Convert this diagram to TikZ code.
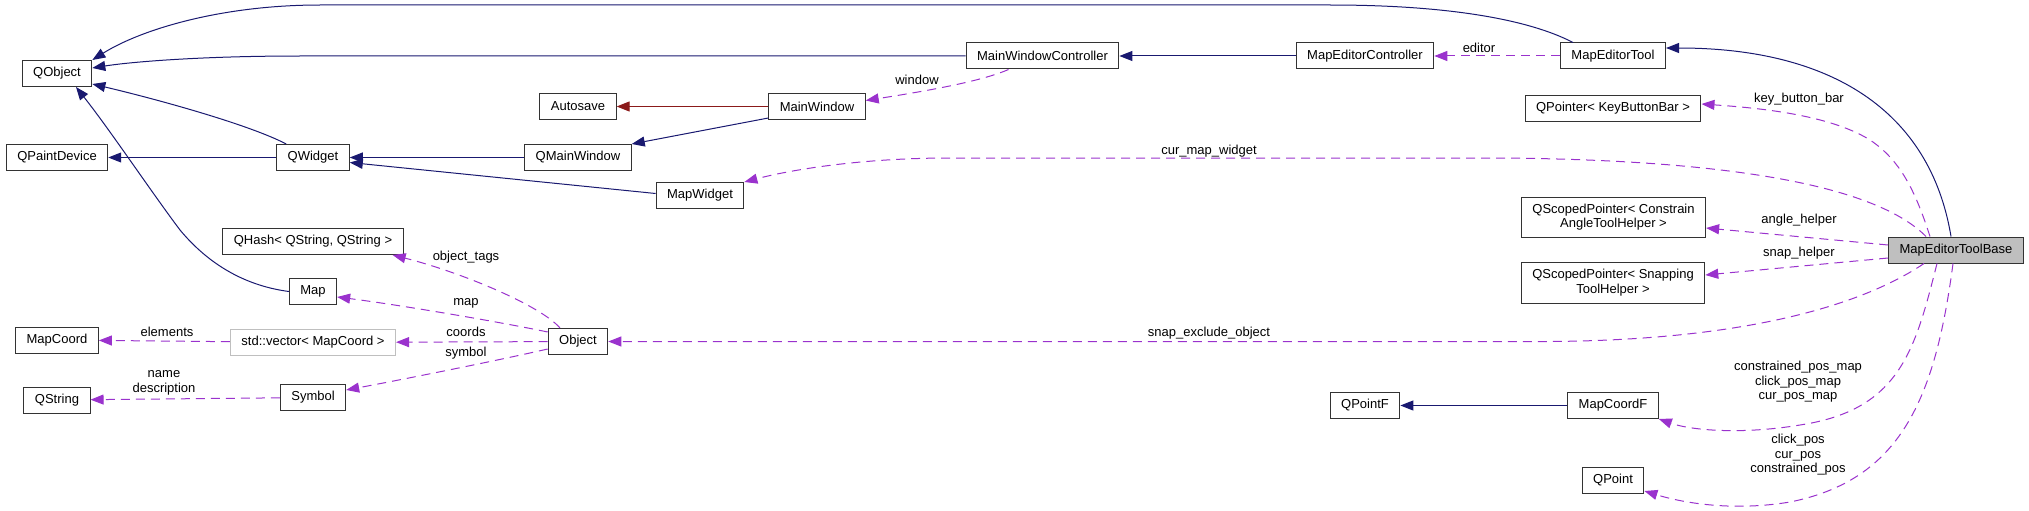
\documentclass[tikz,border=0pt]{standalone}
\usepackage{fontspec}
\setmainfont{Liberation Sans}
\usetikzlibrary{arrows.meta}
\definecolor{inhblue}{HTML}{191970}
\definecolor{usered}{HTML}{8B1A1A}
\definecolor{usepurple}{HTML}{9A32CD}
\definecolor{boxgray}{HTML}{BFBFBF}

\begin{document}
\begin{tikzpicture}[x=1pt,y=-1pt,>={Triangle[length=13pt,width=10pt]},
  every node/.style={font=\fontsize{13}{14.5}\selectfont},
  cls/.style={draw=black!80,line width=1pt,minimum height=26pt,inner xsep=11pt,inner ysep=3pt,align=center},
  lbl/.style={inner sep=0pt,align=center},
  inh/.style={->,draw=inhblue,line width=1pt},
  usage/.style={->,draw=usepurple,line width=1pt,dash pattern=on 9pt off 6pt}]
  \useasboundingbox (0,0) rectangle (2029,511);

  % classes
  \node[cls] (QObject) at (57,73.5) {QObject};
  \node[cls] (QPaintDevice) at (57,157.5) {QPaintDevice};
  \node[cls] (MapCoord) at (57,340) {MapCoord};
  \node[cls] (QString) at (57,400) {QString};
  \node[cls] (QWidget) at (313,157.5) {QWidget};
  \node[cls] (QHash) at (313,241.5) {QHash< QString, QString >};
  \node[cls] (Map) at (313,291.5) {Map};
  \node[cls,draw=boxgray] (MapCoordVec) at (313,342.5) {std::vector< MapCoord >};
  \node[cls] (Symbol) at (313,397.5) {Symbol};
  \node[cls] (Autosave) at (578,106.5) {Autosave};
  \node[cls] (QMainWindow) at (578,157.5) {QMainWindow};
  \node[cls] (Object) at (578,341.5) {Object};
  \node[cls] (MapWidget) at (700,195.5) {MapWidget};
  \node[cls] (MainWindow) at (817,106.5) {MainWindow};
  \node[cls] (MainWindowController) at (1042.5,56) {MainWindowController};
  \node[cls] (MapEditorController) at (1365,56) {MapEditorController};
  \node[cls] (QPointF) at (1365,405.5) {QPointF};
  \node[cls] (MapEditorTool) at (1613,56) {MapEditorTool};
  \node[cls] (KeyBarPtr) at (1613,108) {QPointer< KeyButtonBar >};
  \node[cls,minimum height=40pt] (AngleHelperPtr) at (1613.5,217) {QScopedPointer< Constrain\\AngleToolHelper >};
  \node[cls,minimum height=41pt] (SnapHelperPtr) at (1613,282.5) {QScopedPointer< Snapping\\ToolHelper >};
  \node[cls] (MapCoordF) at (1613,405.5) {MapCoordF};
  \node[cls] (QPoint) at (1613,480) {QPoint};
  \node[cls,fill=boxgray] (ToolBase) at (1956,250) {MapEditorToolBase};

  % inheritance
  \draw[inh] ([xshift=-40pt]MapEditorTool.north) .. controls (1530,20) and (1450,5) .. (1330,5) -- (320,5) .. controls (220,5) and (140,30) .. (QObject.north east);
  \draw[inh] (MainWindowController.west) -- (300,56) .. controls (200,56) and (130,62) .. ([yshift=5.5pt]QObject.east);
  \draw[inh] ([xshift=10pt]QWidget.north west) .. controls (250,125) and (160,100) .. ([yshift=3pt]QObject.south east);
  \draw[inh] (Map.west) .. controls (240,285) and (205,260) .. (180,230) .. controls (150,190) and (110,130) .. ([xshift=19pt]QObject.south);
  \draw[inh] (QWidget) -- (QPaintDevice);
  \draw[inh] (QMainWindow) -- (QWidget);
  \draw[inh] ([yshift=2pt]MapWidget.west) -- ([yshift=-5pt]QWidget.east);
  \draw[inh] ([yshift=2pt]MainWindow.south west) -- (QMainWindow.north east);
  \draw[inh] (MapEditorController) -- (MainWindowController);
  \draw[inh] ([xshift=-5pt]ToolBase.north) .. controls (1930,110) and (1830,48) .. ([yshift=8pt]MapEditorTool.east);
  \draw[inh] (MapCoordF) -- (QPointF);
  \draw[->,draw=usered,line width=1pt] (MainWindow) -- (Autosave);

  % members
  \draw[usage] ([xshift=-34pt]MainWindowController.south) .. controls (980,82) and (920,92) .. ([yshift=6pt]MainWindow.east);
  \draw[usage] (MapEditorTool) -- (MapEditorController);
  \draw[usage] ([xshift=-26pt]ToolBase.north) .. controls (1915,190) and (1900,160) .. (1870,140) .. controls (1830,115) and (1760,108) .. ([yshift=4pt]KeyBarPtr.east);
  \draw[usage] ([xshift=-30pt]ToolBase.north) .. controls (1880,190) and (1750,160) .. (1500,158) -- (950,158) .. controls (860,158) and (790,170) .. (MapWidget.north east);
  \draw[usage] ([yshift=5pt]ToolBase.west) -- ([yshift=-11pt]AngleHelperPtr.east);
  \draw[usage] ([yshift=-8pt]ToolBase.west) -- ([yshift=7.5pt]SnapHelperPtr.east);
  \draw[usage] ([xshift=-32pt]ToolBase.south) .. controls (1870,300) and (1760,340) .. (1550,341.5) -- (Object.east);
  \draw[usage] ([xshift=-19pt]ToolBase.south) .. controls (1915,350) and (1900,410) .. (1800,425) .. controls (1740,435) and (1690,430) .. (MapCoordF.south east);
  \draw[usage] ([xshift=-3pt]ToolBase.south) .. controls (1935,400) and (1900,480) .. (1790,502) .. controls (1730,512) and (1680,502) .. ([yshift=-11pt]QPoint.east);
  \draw[usage] ([xshift=-18pt]Object.north) .. controls (540,305) and (460,272) .. ([xshift=-11pt]QHash.south east);
  \draw[usage] ([yshift=9.5pt]Object.west) .. controls (500,322) and (400,305) .. ([yshift=-5.5pt]Map.east);
  \draw[usage] (Object) -- (MapCoordVec);
  \draw[usage] ([yshift=-7.5pt]Object.west) .. controls (500,360) and (400,380) .. ([yshift=7.5pt]Symbol.east);
  \draw[usage] (MapCoordVec) -- (MapCoord);
  \draw[usage] (Symbol) -- (QString);

  % member names
  \node[lbl] (lwindow) at (917,80) {window};
  \node[lbl] (leditor) at (1479,48) {editor};
  \node[lbl] (lkeybar) at (1799,99) {key\_button\_bar};
  \node[lbl] (lcurmap) at (1209,151) {cur\_map\_widget};
  \node[lbl] (langle) at (1799,220) {angle\_helper};
  \node[lbl] (lsnap) at (1799,253) {snap\_helper};
  \node[lbl] (lexclude) at (1209,333) {snap\_exclude\_object};
  \node[lbl] (lposmap) at (1798,382) {constrained\_pos\_map\\click\_pos\_map\\cur\_pos\_map};
  \node[lbl] (lpos) at (1798,455) {click\_pos\\cur\_pos\\constrained\_pos};
  \node[lbl] (ltags) at (466,257) {object\_tags};
  \node[lbl] (lmap) at (466,303) {map};
  \node[lbl] (lcoords) at (466,332) {coords};
  \node[lbl] (lsymbol) at (466,353) {symbol};
  \node[lbl] (lelements) at (167,332) {elements};
  \node[lbl] (lnames) at (164,383) {name\\description};
\end{tikzpicture}
\end{document}
